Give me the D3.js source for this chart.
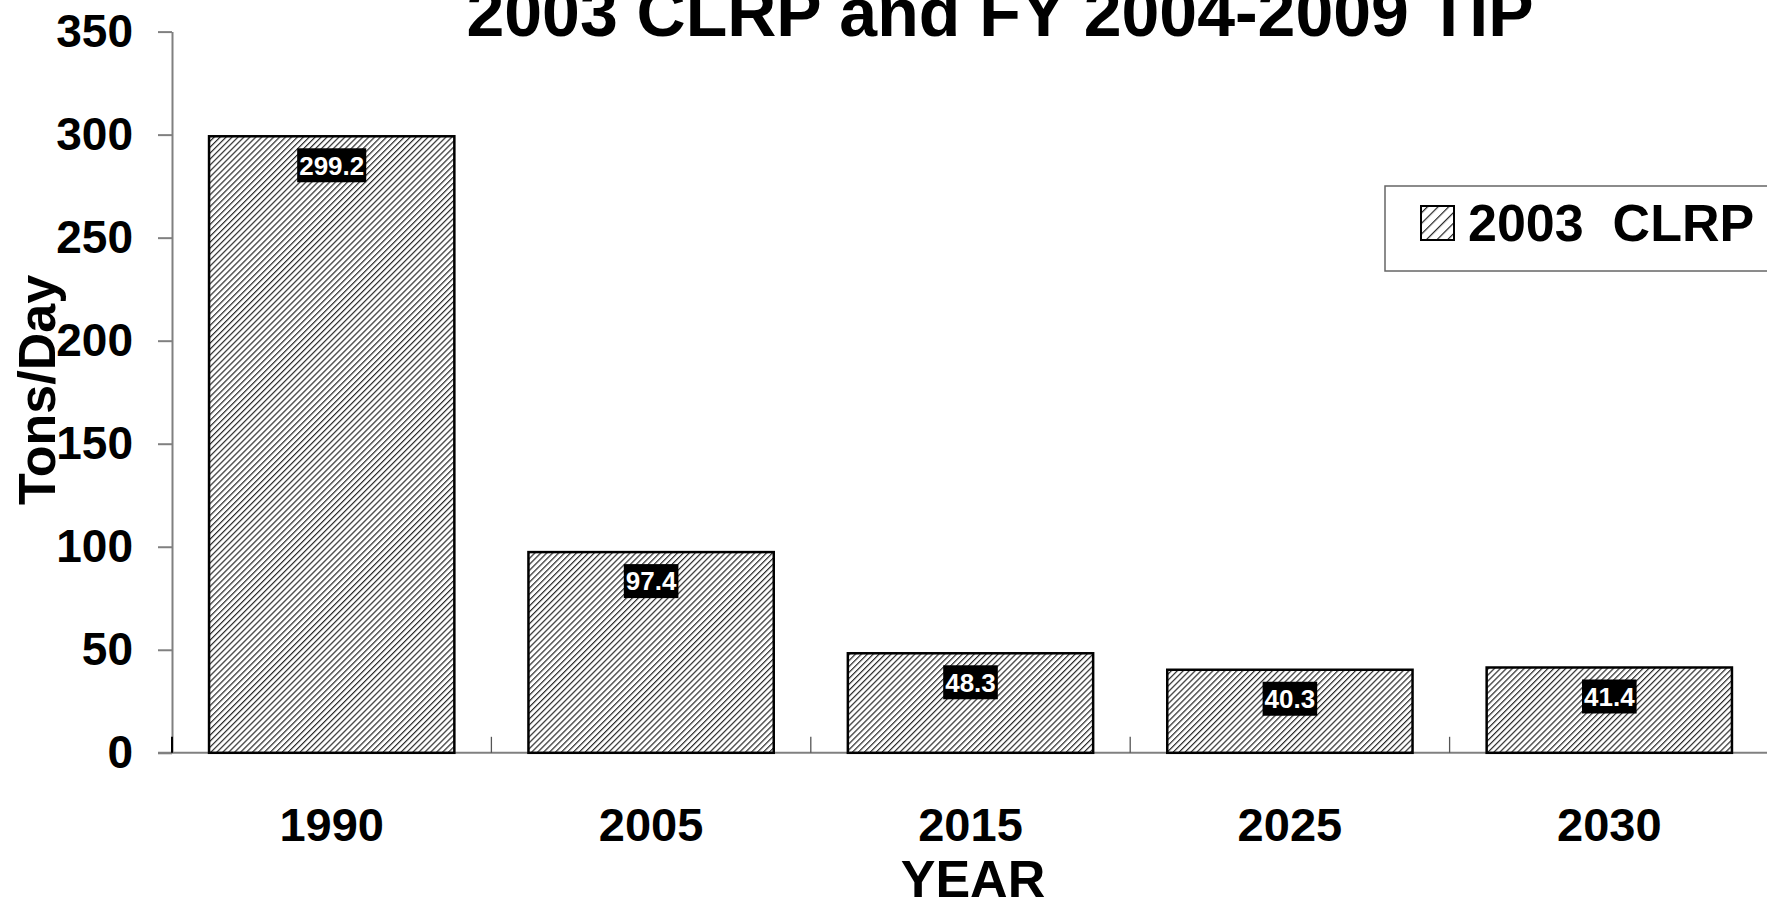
<!DOCTYPE html>
<html>
<head>
<meta charset="utf-8">
<script src="https://cdn.jsdelivr.net/npm/d3@7"></script>
<style>
    body { margin: 0; background: #fff; }
    text { font-family: "Liberation Sans", Arial, sans-serif; font-weight: bold; fill: #000; }
</style>
</head>
<body>
<div id="chart"></div>
<script>
// Data for bar chart
const YEARS = ["1990", "2005", "2015", "2025", "2030"];
const VALUES = [299.2, 97.4, 48.3, 40.3, 41.4];
const Y_TICKS = [0, 50, 100, 150, 200, 250, 300, 350];
const TITLE = "2003 CLRP and FY 2004-2009 TIP";
const SERIES_NAME = "2003  CLRP";

const width = 1767;
const height = 898;
const plot = ({left: 172, right: 1769, top: 31.6, bottom: 752.8});

let svg = d3.select("#chart")
    .append("svg")
    .attr("width", width)
    .attr("height", height);

// hatch patterns
const defs = svg.append("defs");
function addHatch(id, size, strokeWidth, color) {
    const p = defs.append("pattern")
        .attr("id", id)
        .attr("patternUnits", "userSpaceOnUse")
        .attr("width", size)
        .attr("height", size)
        .attr("patternTransform", "rotate(45)");
    p.append("rect")
        .attr("width", size)
        .attr("height", size)
        .attr("fill", "#fff");
    p.append("line")
        .attr("x1", 0).attr("y1", 0)
        .attr("x2", 0).attr("y2", size)
        .attr("stroke", color)
        .attr("stroke-width", strokeWidth);
}
addHatch("hatch", 4.2, 2.4, "#2a2a2a");
addHatch("hatch-legend", 7.5, 2.4, "#222");

const xScale = d3.scaleBand()
    .domain(YEARS)
    .range([plot.left, plot.right])
    .paddingInner(0.232)
    .paddingOuter(0.116);

const yScale = d3.scaleLinear()
    .domain([0, 350])
    .range([plot.bottom, plot.top]);

// Title
svg.append("text")
    .attr("x", 1000)
    .attr("y", 36)
    .attr("text-anchor", "middle")
    .style("font-size", "68px")
    .text(TITLE);

// Create y axis
let yAxis = svg.append("g")
    .attr("class", "y axis")
    .attr("transform", `translate(${plot.left}, 0)`)
    .call(d3.axisLeft(yScale)
        .tickValues(Y_TICKS)
        .tickSize(14)
        .tickSizeOuter(0)
        .tickPadding(25));

yAxis.select(".domain").attr("stroke", "#808080").attr("stroke-width", 2);
yAxis.selectAll(".tick line").attr("stroke", "#808080").attr("stroke-width", 2);
yAxis.selectAll(".tick text")
    .attr("fill", "#000")
    .style("font-size", "46px")
    .style("font-family", "'Liberation Sans', Arial, sans-serif");

// Y axis legend
svg.append("text")
    .attr("transform", `translate(55, 390) rotate(-90)`)
    .attr("text-anchor", "middle")
    .style("font-size", "52px")
    .text("Tons/Day");

// Create x axis line and boundary ticks
const xAxisGroup = svg.append("g")
    .attr("class", "x axis");

xAxisGroup.append("line")
    .attr("x1", plot.left - 14)
    .attr("x2", width)
    .attr("y1", plot.bottom)
    .attr("y2", plot.bottom)
    .attr("stroke", "#808080")
    .attr("stroke-width", 2);

const gap = (xScale.step() - xScale.bandwidth()) / 2;
xAxisGroup.selectAll(".boundary")
    .data(YEARS)
  .enter().append("line")
    .attr("class", "boundary")
    .attr("x1", d => xScale(d) - gap)
    .attr("x2", d => xScale(d) - gap)
    .attr("y1", plot.bottom)
    .attr("y2", plot.bottom - 16)
    .attr("stroke", (d, i) => i === 0 ? "#000" : "#555")
    .attr("stroke-width", (d, i) => i === 0 ? 2 : 1.3);

const xLabels = svg.append("g")
    .attr("transform", `translate(0, ${plot.bottom})`)
    .call(d3.axisBottom(xScale).tickSize(0).tickPadding(55));
xLabels.select(".domain").remove();
xLabels.selectAll(".tick text")
    .attr("fill", "#000")
    .style("font-size", "47px")
    .style("font-family", "'Liberation Sans', Arial, sans-serif");

svg.append("text")
    .attr("x", 973)
    .attr("y", 897)
    .attr("text-anchor", "middle")
    .style("font-size", "52px")
    .text("YEAR");

// Bars
const barGroup = svg.append("g").attr("class", "bars");
barGroup.selectAll("rect")
    .data(VALUES)
  .enter().append("rect")
    .attr("x", (d, i) => xScale(YEARS[i]))
    .attr("y", d => yScale(d))
    .attr("width", xScale.bandwidth())
    .attr("height", d => plot.bottom - yScale(d))
    .attr("fill", "url(#hatch)")
    .attr("stroke", "#000")
    .attr("stroke-width", 2.5);

// Value labels
const labelGroup = svg.append("g").attr("class", "labels");
VALUES.forEach((v, i) => {
    const g = labelGroup.append("g")
        .attr("transform", `translate(${xScale(YEARS[i]) + xScale.bandwidth() / 2}, ${yScale(v) + 29})`);
    const bg = g.append("rect").attr("fill", "#000");
    const t = g.append("text")
        .attr("text-anchor", "middle")
        .attr("dy", "0.36em")
        .style("font-size", "26px")
        .style("fill", "#fff")
        .text(v.toFixed(1));
    const w = t.node().getComputedTextLength();
    bg.attr("x", -w / 2 - 2)
        .attr("y", -17)
        .attr("width", w + 4)
        .attr("height", 34);
});

// Legend
const legend = svg.append("g").attr("class", "legend");
legend.append("rect")
    .attr("x", 1385)
    .attr("y", 186)
    .attr("width", 500)
    .attr("height", 85)
    .attr("fill", "#fff")
    .attr("stroke", "#666")
    .attr("stroke-width", 1.5);
legend.append("rect")
    .attr("x", 1421)
    .attr("y", 206)
    .attr("width", 33)
    .attr("height", 34)
    .attr("fill", "url(#hatch-legend)")
    .attr("stroke", "#000")
    .attr("stroke-width", 2);
legend.append("text")
    .attr("x", 1468)
    .attr("y", 241)
    .style("font-size", "52px")
    .style("white-space", "pre")
    .text(SERIES_NAME);
</script>
</body>
</html>
